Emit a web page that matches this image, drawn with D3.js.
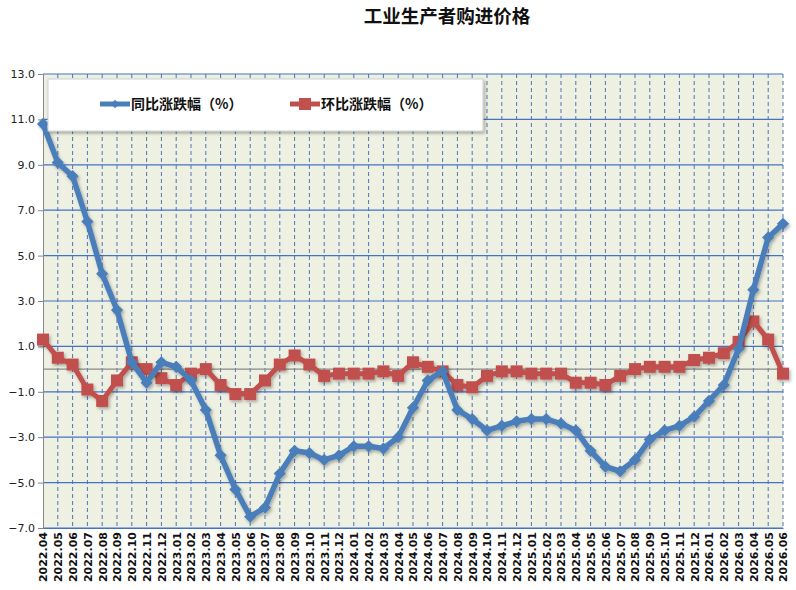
<!DOCTYPE html>
<html><head><meta charset="utf-8">
<script src="https://cdn.jsdelivr.net/npm/d3@7"></script>
<style>body{margin:0;background:#fff;} svg{display:block;}</style>
</head><body>
<svg id="c" width="796" height="590"></svg>
<script>
const title = "工业生产者购进价格";
const months = ["2022.04","2022.05","2022.06","2022.07","2022.08","2022.09","2022.10","2022.11","2022.12",
"2023.01","2023.02","2023.03","2023.04","2023.05","2023.06","2023.07","2023.08","2023.09","2023.10","2023.11","2023.12",
"2024.01","2024.02","2024.03","2024.04","2024.05","2024.06","2024.07","2024.08","2024.09","2024.10","2024.11","2024.12",
"2025.01","2025.02","2025.03","2025.04","2025.05","2025.06","2025.07","2025.08","2025.09","2025.10","2025.11","2025.12",
"2026.01","2026.02","2026.03","2026.04","2026.05","2026.06"];
const yoyName = "同比涨跌幅（%）";
const momName = "环比涨跌幅（%）";
const yoy = [10.8,9.1,8.5,6.5,4.2,2.6,0.3,-0.6,0.3,
0.1,-0.5,-1.8,-3.8,-5.3,-6.5,-6.1,-4.6,-3.6,-3.7,-4.0,-3.8,
-3.4,-3.4,-3.5,-3.0,-1.7,-0.5,-0.1,-1.8,-2.2,-2.7,-2.5,-2.3,
-2.2,-2.2,-2.4,-2.7,-3.6,-4.3,-4.5,-4.0,-3.1,-2.7,-2.5,-2.1,
-1.4,-0.7,0.9,3.5,5.8,6.4];
const mom = [1.3,0.5,0.2,-0.9,-1.4,-0.5,0.3,0.0,-0.4,
-0.7,-0.2,0.0,-0.7,-1.1,-1.1,-0.5,0.2,0.6,0.2,-0.3,-0.2,
-0.2,-0.2,-0.1,-0.3,0.3,0.1,-0.1,-0.7,-0.8,-0.3,-0.1,-0.1,
-0.2,-0.2,-0.2,-0.6,-0.6,-0.7,-0.3,0.0,0.1,0.1,0.1,0.4,
0.5,0.7,1.2,2.1,1.3,-0.2];
const yTicks = [13,11,9,7,5,3,1,-1,-3,-5,-7];

const svg = d3.select("#c");
const L = 43, R = 783, T = 74, B = 528;
const x = d3.scalePoint().domain(months).range([L, R]);
const y = d3.scaleLinear().domain([-7, 13]).range([B, T]);

const defs = svg.append("defs");
const f = defs.append("filter").attr("id","sh").attr("x","-20%").attr("y","-20%").attr("width","140%").attr("height","140%");
f.append("feDropShadow").attr("dx",1.5).attr("dy",2).attr("stdDeviation",1.5).attr("flood-color","#000").attr("flood-opacity",0.3);

// title
svg.append("text").attr("x", 447).attr("y", 23).attr("text-anchor","middle")
  .attr("font-family","'Noto Sans CJK SC', sans-serif").attr("font-weight","bold").attr("font-size",18.5)
  .attr("fill","#111").text(title);

// plot bg
svg.append("rect").attr("x",L).attr("y",T).attr("width",R-L).attr("height",B-T).attr("fill","#eef0e1");

// vertical dashed grid
svg.append("g").selectAll("line").data(months.slice(1)).join("line")
  .attr("x1",d=>x(d)).attr("x2",d=>x(d)).attr("y1",T).attr("y2",B)
  .attr("stroke","#4f74b4").attr("stroke-width",1).attr("stroke-dasharray","4,3");

// horizontal grid
svg.append("g").selectAll("line").data(yTicks).join("line")
  .attr("x1",L).attr("x2",R).attr("y1",d=>y(d)).attr("y2",d=>y(d))
  .attr("stroke","#4472c4").attr("stroke-width",1.2);

// zero line
svg.append("line").attr("x1",L).attr("x2",R).attr("y1",y(0)).attr("y2",y(0)).attr("stroke","#8a8a8a").attr("stroke-width",1.2);

// y axis
const yAxis = d3.axisLeft(y).tickValues(yTicks).tickFormat(d3.format(".1f")).tickSize(5).tickPadding(3);
const gy = svg.append("g").attr("transform",`translate(${L},0)`).call(yAxis);
gy.select(".domain").attr("stroke","#888");
gy.selectAll(".tick line").attr("stroke","#888");
gy.selectAll("text").attr("font-family","'DejaVu Sans', sans-serif").attr("font-size",11).attr("fill","#222");

// x axis
const xAxis = d3.axisBottom(x).tickSize(0).tickPadding(4);
const gx = svg.append("g").attr("transform",`translate(0,${B})`).call(xAxis);
gx.select(".domain").attr("stroke","#4472c4");
gx.selectAll("text").attr("transform","rotate(-90)").attr("text-anchor","end")
  .attr("x",-4).attr("y",0).attr("dy","0.35em")
  .attr("font-family","'DejaVu Sans', sans-serif").attr("font-weight","bold").attr("font-size",11).attr("fill","#111");

const line = d3.line().x((d,i)=>x(months[i])).y(d=>y(d));

// mom series (red)
const gm = svg.append("g").attr("filter","url(#sh)");
gm.append("path").datum(mom).attr("d",line).attr("fill","none").attr("stroke","#c0504d").attr("stroke-width",5).attr("stroke-linejoin","round");
gm.selectAll("rect").data(mom).join("rect")
  .attr("x",(d,i)=>x(months[i])-6).attr("y",d=>y(d)-6).attr("width",12).attr("height",12).attr("fill","#c0504d");

// yoy series (blue)
const gb = svg.append("g").attr("filter","url(#sh)");
gb.append("path").datum(yoy).attr("d",line).attr("fill","none").attr("stroke","#4a7ebb").attr("stroke-width",5.5).attr("stroke-linejoin","round");
gb.selectAll("path.m").data(yoy).join("path").attr("class","m")
  .attr("d",d3.symbol(d3.symbolDiamond2, 95))
  .attr("transform",(d,i)=>`translate(${x(months[i])},${y(d)})`).attr("fill","#4a7ebb");

// legend
const lg = svg.append("g");
lg.append("rect").attr("x",48).attr("y",79).attr("width",435).attr("height",52).attr("fill","#fff").attr("stroke","#cfcfcf").attr("filter","url(#sh)");
const items = [{name:yoyName,c:"#4a7ebb",x:100,sym:"d"},{name:momName,c:"#c0504d",x:290,sym:"s"}];
items.forEach(it=>{
  const g = lg.append("g");
  g.append("line").attr("x1",it.x).attr("x2",it.x+30).attr("y1",104).attr("y2",104).attr("stroke",it.c).attr("stroke-width",5);
  if(it.sym==="d") g.append("path").attr("d",d3.symbol(d3.symbolDiamond2,45)).attr("transform",`translate(${it.x+15},104)`).attr("fill",it.c);
  else g.append("rect").attr("x",it.x+9).attr("y",98).attr("width",12).attr("height",12).attr("fill",it.c);
  g.append("text").attr("x",it.x+31).attr("y",104).attr("dy","0.35em")
    .attr("font-family","'Noto Sans CJK SC', sans-serif").attr("font-weight","bold").attr("font-size",14).attr("fill","#111").text(it.name);
});
</script>
</body></html>
